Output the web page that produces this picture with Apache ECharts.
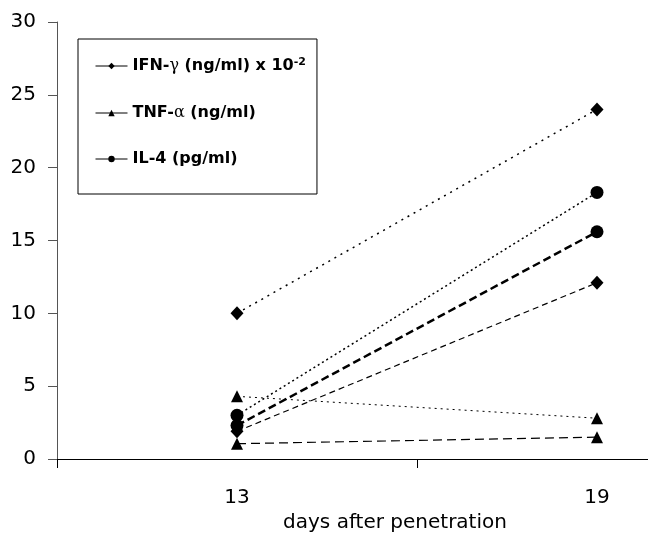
<!DOCTYPE html>
<html><head><meta charset="utf-8">
<script src="https://cdn.jsdelivr.net/npm/echarts@6/dist/echarts.min.js"></script>
<style>
html,body{margin:0;padding:0;background:#fff;overflow:hidden;width:648px;height:533px}
#wrap{position:absolute;left:0;top:0;width:648px;height:533px;overflow:hidden}
#c{position:absolute;left:0;top:0;width:800px;height:533px}
</style>
</head><body><div id="wrap"><div id="c"></div></div>
<script>
const categories = ["13", "19"];
const yTicks = [0, 5, 10, 15, 20, 25, 30];
const ifnName = "IFN-γ (ng/ml) x 10-2";
const tnfName = "TNF-α (ng/ml)";
const il4Name = "IL-4 (pg/ml)";
const ifnA = [10, 24];
const ifnB = [1.9, 12.1];
const tnfA = [4.3, 2.8];
const tnfB = [1.05, 1.5];
const il4A = [3.0, 18.3];
const il4B = [2.3, 15.6];

const chart = echarts.init(document.getElementById('c'), null, {renderer: 'canvas', width: 800, height: 533});
const font = '"DejaVu Sans", sans-serif';
function s(name, data, symbol, size, lw, dash) {
  return {
    name: name, type: 'line', data: data, symbol: symbol, symbolSize: size,
    showSymbol: true, animation: false,
    itemStyle: {color: '#000'},
    lineStyle: {color: '#000', width: lw, type: dash},
    emphasis: {disabled: true}
  };
}
chart.setOption({
  animation: false,
  grid: {left: 57, right: 23, top: 22, bottom: 74, outerBoundsMode: 'none', containLabel: false},
  legend: {
    orient: 'vertical', left: 78, top: 39,
    data: [ifnName, tnfName, il4Name],
    borderColor: '#000', borderWidth: 1,
    padding: [18, 11, 26, 17],
    itemGap: 28, itemWidth: 32, itemHeight: 8,
    lineStyle: {type: 'solid', width: 1},
    formatter: function (n) {
      if (n === ifnName) return 'IFN-{g|γ} (ng/ml) x 10{sup|-2}';
      if (n === tnfName) return 'TNF-{g|α} (ng/ml)';
      return n;
    },
    textStyle: {
      fontFamily: font, fontWeight: 'bold', fontSize: 16, color: '#000', lineHeight: 18,
      rich: {
        sup: {fontFamily: font, fontWeight: 'bold', fontSize: 11, verticalAlign: 'top', lineHeight: 18, padding: [0,0,8,0]},
        g: {fontFamily: '"DejaVu Serif", serif', fontWeight: 'normal', fontSize: 16, lineHeight: 18}
      }
    }
  },
  xAxis: {
    type: 'category', data: categories, boundaryGap: true,
    axisLine: {lineStyle: {color: '#000', width: 1}},
    axisTick: {show: true, inside: false, length: 9, lineStyle: {color: '#000'}},
    axisLabel: {fontFamily: font, fontSize: 20, color: '#000', margin: 29},
    name: 'days after penetration', nameLocation: 'middle', nameGap: 54,
    nameTextStyle: {fontFamily: font, fontSize: 20, color: '#000', padding: [0, 44, 0, 0]}
  },
  yAxis: {
    type: 'value', min: 0, max: 30, interval: 5,
    axisLine: {show: true, lineStyle: {color: '#555', width: 1}},
    axisTick: {show: true, inside: false, length: 9, lineStyle: {color: '#555'}},
    axisLabel: {fontFamily: font, fontSize: 20, color: '#000', margin: 21,
      formatter: function (v) { return yTicks.indexOf(v) >= 0 ? String(v) : ''; }},
    splitLine: {show: false}
  },
  series: [
    s(ifnName, ifnA, 'diamond', [13, 14], 1.5, [2, 5]),
    s(ifnName, ifnB, 'diamond', [13, 14], 1.2, [6, 4]),
    s(tnfName, tnfA, 'triangle', 12, 1, [2, 4]),
    s(tnfName, tnfB, 'triangle', 12, 1.2, [9, 5]),
    s(il4Name, il4A, 'circle', 13, 1.5, [2, 3]),
    s(il4Name, il4B, 'circle', 13, 2.5, [8, 4])
  ]
});
</script>
</body></html>
